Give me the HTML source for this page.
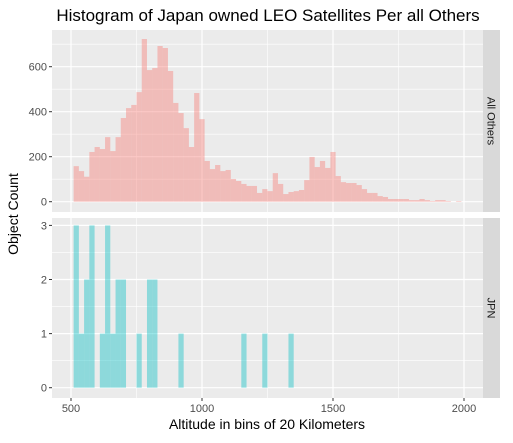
<!DOCTYPE html>
<html><head><meta charset="utf-8"><style>
body{margin:0;background:#fff;}
svg text{font-family:"Liberation Sans",sans-serif;}
</style></head><body>
<svg id="c" width="513" height="438" xmlns="http://www.w3.org/2000/svg">
<text x="268" y="21" font-size="17" text-anchor="middle" fill="#000">Histogram of Japan owned LEO Satellites Per all Others</text>
<text x="267" y="429" font-size="14" text-anchor="middle">Altitude in bins of 20 Kilometers</text>
<text transform="translate(18,214) rotate(-90)" font-size="14" text-anchor="middle">Object Count</text>
</svg>
<script>
const binStart = 510, binWidth = 20;
const othersCounts = [158,136,111,221,243,234,287,225,287,372,416,430,487,723,585,594,692,683,581,439,394,327,243,483,367,181,145,163,136,141,101,92,79,70,70,39,56,47,127,79,34,43,47,52,96,199,154,181,150,221,114,87,83,83,74,56,39,39,25,21,12,12,12,12,7,7,12,7,3,7,7,3,0,3];
const jpnCounts = [3,1,2,3,0,1,3,1,2,2,0,0,1,0,2,2,0,0,0,0,1,0,0,0,0,0,0,0,0,0,0,0,1,0,0,0,1,0,0,0,0,1];
const xTicks = [500,1000,1500,2000];
const topTicks = [0,200,400,600];
const botTicks = [0,1,2,3];

const NS="http://www.w3.org/2000/svg", svg=document.getElementById('c');
function el(t,a,p){const e=document.createElementNS(NS,t);for(const k in a)e.setAttribute(k,a[k]);(p||svg).appendChild(e);return e;}
const PX0=52, PX1=483;
const xs = v => 71 + (v-500)*0.262;
const panels=[
 {y0:30,y1:212,ys:v=>201.7-v*0.225,ticks:topTicks,minor:[100,300,500,700],data:othersCounts,col:"#F8766D",label:"All Others",name:"others"},
 {y0:218,y1:398,ys:v=>387.7-v*54.1,ticks:botTicks,minor:[0.5,1.5,2.5],data:jpnCounts,col:"#00BFC4",label:"JPN",name:"jpn"}
];
panels.forEach(p=>{
 const g=el('g',{});
 
 
 el('rect',{x:PX0,y:p.y0,width:PX1-PX0,height:p.y1-p.y0,fill:"#EBEBEB"},g);
 p.minor.forEach(v=>el('line',{x1:PX0,x2:PX1,y1:p.ys(v),y2:p.ys(v),stroke:"#fff","stroke-width":0.6},g));
 [750,1250,1750].forEach(v=>el('line',{x1:xs(v),x2:xs(v),y1:p.y0,y2:p.y1,stroke:"#fff","stroke-width":0.6},g));
 p.ticks.forEach(v=>{
  el('line',{x1:PX0,x2:PX1,y1:p.ys(v),y2:p.ys(v),stroke:"#fff","stroke-width":1.2},g);
  el('line',{x1:PX0-3,x2:PX0,y1:p.ys(v),y2:p.ys(v),stroke:"#333","stroke-width":1},g);
  const t=el('text',{x:PX0-5,y:p.ys(v)+4,"font-size":11,"text-anchor":"end",fill:"#4D4D4D"},g);
  t.textContent=v;
  
  
 });
 xTicks.forEach(v=>el('line',{x1:xs(v),x2:xs(v),y1:p.y0,y2:p.y1,stroke:"#fff","stroke-width":1.2},g));
 p.data.forEach((c,i)=>{
  if(c<=0)return;
  const a=binStart+i*binWidth;
  const r=el('rect',{x:xs(a),y:p.ys(c),width:xs(a+binWidth)-xs(a),height:p.ys(0)-p.ys(c),fill:p.col,"fill-opacity":0.4},g);
  
  
 });
 const s=el('rect',{x:PX1,y:p.y0,width:17,height:p.y1-p.y0,fill:"#D9D9D9"},g);
 
 
 const cy=(p.y0+p.y1)/2;
 const st=el('text',{transform:`translate(${PX1+4.5},${cy}) rotate(90)`,"font-size":11,"text-anchor":"middle",fill:"#1A1A1A"},g);
 st.textContent=p.label;
 
 
});
xTicks.forEach(v=>{
 el('line',{x1:xs(v),x2:xs(v),y1:398,y2:401,stroke:"#333","stroke-width":1});
 const t=el('text',{x:xs(v),y:412,"font-size":11,"text-anchor":"middle",fill:"#4D4D4D"});
 t.textContent=v;
 
 
});
</script>
</body></html>
